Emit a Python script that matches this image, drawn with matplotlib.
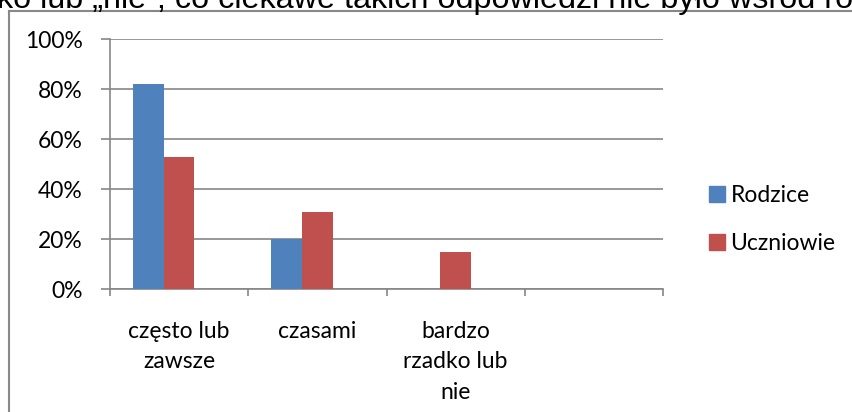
import matplotlib
matplotlib.use("Agg")
import matplotlib.pyplot as plt
import numpy as np
from matplotlib.lines import Line2D
from matplotlib.patches import Patch

categories = ["często lub\nzawsze", "czasami", "bardzo\nrzadko lub\nnie", ""]
rodzice = [82, 20, 0, None]
uczniowie = [53, 31, 15, None]
yticks = [0, 20, 40, 60, 80, 100]

W, H = 852, 412
BLUE = "#4f81bd"
RED = "#c0504d"
GRID = "#868686"
FONT = "Lato"
FS = 16.5

fig = plt.figure(figsize=(W / 100, H / 100), dpi=100)
ax = fig.add_axes([110 / W, 1 - 289 / H, (663 - 110) / W, (289 - 39) / H])

x = np.arange(len(categories))
w = 1 / 4.5  # three series slots, gap width 150%
r_vals = [v if v is not None else 0 for v in rodzice]
u_vals = [v if v is not None else 0 for v in uczniowie]
ax.bar(x - w, r_vals, w, color=BLUE, zorder=3)
ax.bar(x, u_vals, w, color=RED, zorder=3)

ax.set_xlim(-0.5, len(categories) - 0.5)
ax.set_ylim(0, 100)
ax.set_yticks(yticks)
ax.set_yticklabels([f"{v}%" for v in yticks], fontsize=FS, family=FONT)
ax.yaxis.grid(True, color=GRID, linewidth=1.2, zorder=0)
ax.tick_params(axis="y", length=6.5, width=1.2, color=GRID, pad=13)

# category boundary ticks, labels centred between them
ax.set_xticks(np.arange(len(categories) + 1) - 0.5)
ax.set_xticklabels([])
ax.tick_params(axis="x", which="major", length=5, width=1.2, color=GRID)
ax.set_xticks(x, minor=True)
ax.set_xticklabels(categories, minor=True, fontsize=FS, family=FONT, linespacing=1.55)
ax.tick_params(axis="x", which="minor", length=0, pad=23)

for side in ["top", "right"]:
    ax.spines[side].set_visible(False)
for side in ["left", "bottom"]:
    ax.spines[side].set_color(GRID)
    ax.spines[side].set_linewidth(1.2)

handles = [Patch(color=BLUE, label="Rodzice"), Patch(color=RED, label="Uczniowie")]
fig.legend(handles=handles, loc="upper left", bbox_to_anchor=(688 / W, 1 - 164 / H),
           frameon=False, prop={"family": FONT, "size": FS},
           handlelength=0.7, handleheight=0.7, handletextpad=0.25, labelspacing=1.2)

# chart frame (partly outside the screenshot)
fig.add_artist(Line2D([8.5 / W, 8.5 / W], [0, 1 - 11 / H], color="#888888", lw=1.5))
fig.add_artist(Line2D([8.5 / W, 1], [1 - 11 / H, 1 - 11 / H], color="#888888", lw=1.5))

# cut-off document text above the chart
fig.text(-3 / W, 1 - 8 / H, "ko lub „nie”, co ciekawe takich odpowiedzi nie było wśród rodziców",
         family="Liberation Sans", fontsize=23.3, va="baseline", ha="left")

fig.savefig("out.png", dpi=100)
